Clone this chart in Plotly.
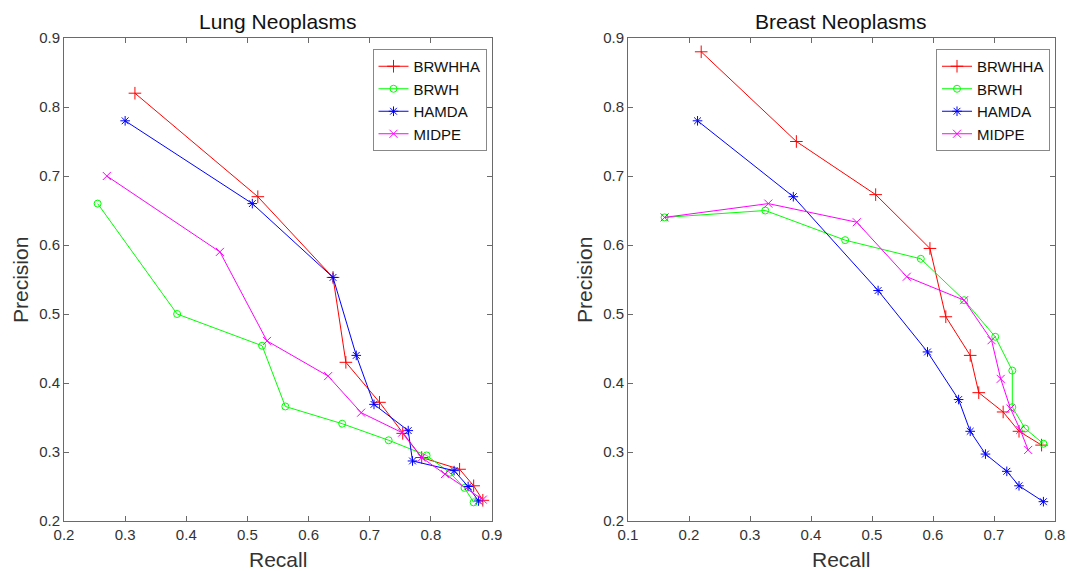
import plotly.graph_objects as go

W, H = 1067, 571

series_names = ["BRWHHA", "BRWH", "HAMDA", "MIDPE"]

# Lung Neoplasms (left)
lung_brwhha_recall = [0.316, 0.517, 0.640, 0.661, 0.716, 0.754, 0.785, 0.847, 0.870, 0.885]
lung_brwhha_prec = [0.820, 0.670, 0.553, 0.430, 0.372, 0.327, 0.292, 0.275, 0.251, 0.230]
lung_brwh_recall = [0.255, 0.385, 0.524, 0.562, 0.655, 0.731, 0.793, 0.831, 0.855, 0.870]
lung_brwh_prec = [0.660, 0.500, 0.454, 0.366, 0.341, 0.317, 0.295, 0.270, 0.248, 0.227]
lung_hamda_recall = [0.300, 0.508, 0.640, 0.678, 0.707, 0.763, 0.770, 0.838, 0.861, 0.878]
lung_hamda_prec = [0.780, 0.660, 0.553, 0.440, 0.369, 0.331, 0.287, 0.273, 0.250, 0.229]
lung_midpe_recall = [0.270, 0.455, 0.532, 0.632, 0.686, 0.753, 0.785, 0.823, 0.885]
lung_midpe_prec = [0.700, 0.590, 0.461, 0.410, 0.357, 0.328, 0.292, 0.268, 0.231]

# Breast Neoplasms (right)
breast_brwhha_recall = [0.220, 0.376, 0.506, 0.595, 0.621, 0.661, 0.675, 0.715, 0.741, 0.778]
breast_brwhha_prec = [0.880, 0.750, 0.673, 0.595, 0.496, 0.440, 0.386, 0.358, 0.330, 0.310]
breast_brwh_recall = [0.160, 0.325, 0.456, 0.580, 0.651, 0.702, 0.730, 0.730, 0.751, 0.781]
breast_brwh_prec = [0.640, 0.650, 0.607, 0.580, 0.520, 0.467, 0.418, 0.365, 0.334, 0.312]
breast_hamda_recall = [0.214, 0.371, 0.510, 0.591, 0.642, 0.661, 0.686, 0.721, 0.741, 0.781]
breast_hamda_prec = [0.780, 0.670, 0.534, 0.445, 0.376, 0.330, 0.297, 0.272, 0.251, 0.228]
breast_midpe_recall = [0.160, 0.330, 0.475, 0.557, 0.651, 0.696, 0.711, 0.727, 0.743, 0.756]
breast_midpe_prec = [0.640, 0.660, 0.633, 0.554, 0.520, 0.462, 0.406, 0.363, 0.332, 0.303]

lung_x_ticks = [0.2, 0.3, 0.4, 0.5, 0.6, 0.7, 0.8, 0.9]
breast_x_ticks = [0.1, 0.2, 0.3, 0.4, 0.5, 0.6, 0.7, 0.8]
y_ticks = [0.2, 0.3, 0.4, 0.5, 0.6, 0.7, 0.8, 0.9]

colors = ["#ff0000", "#00ff00", "#0000ff", "#ff00ff"]
symbols = ["cross-thin-open", "circle-open", "asterisk-open", "x-thin-open"]
sizes = [9, 7, 8, 8]

lung = [(lung_brwhha_recall, lung_brwhha_prec), (lung_brwh_recall, lung_brwh_prec),
        (lung_hamda_recall, lung_hamda_prec), (lung_midpe_recall, lung_midpe_prec)]
breast = [(breast_brwhha_recall, breast_brwhha_prec), (breast_brwh_recall, breast_brwh_prec),
          (breast_hamda_recall, breast_hamda_prec), (breast_midpe_recall, breast_midpe_prec)]

fig = go.Figure()
FONT = "Liberation Sans, Arial, Helvetica, sans-serif"

for i, (xs, ys) in enumerate(lung):
    fig.add_trace(go.Scatter(
        x=xs, y=ys, mode="lines+markers", name=series_names[i],
        line=dict(color=colors[i], width=1),
        marker=dict(symbol=symbols[i], size=sizes[i], color=colors[i], line=dict(color=colors[i], width=1)),
        xaxis="x", yaxis="y", legend="legend"))
for i, (xs, ys) in enumerate(breast):
    fig.add_trace(go.Scatter(
        x=xs, y=ys, mode="lines+markers", name=series_names[i],
        line=dict(color=colors[i], width=1),
        marker=dict(symbol=symbols[i], size=sizes[i], color=colors[i], line=dict(color=colors[i], width=1)),
        xaxis="x2", yaxis="y2", legend="legend2"))

ybot, ytop = 1 - 521 / H, 1 - 38 / H
axis_common = dict(showline=True, linecolor="#6a6a6a", linewidth=1, mirror="ticks",
                   ticks="inside", ticklen=5, tickcolor="#6a6a6a", showgrid=False, zeroline=False,
                   automargin=False,
                   tickfont=dict(family=FONT, size=15, color="#333333"))

legend_common = dict(y=1 - 49 / H, xanchor="center", yanchor="top",
                     bgcolor="white", bordercolor="#888888", borderwidth=1, itemwidth=30,
                     font=dict(family=FONT, size=15, color="#111111"), tracegroupgap=0)

fig.update_layout(
    width=W, height=H, margin=dict(l=0, r=0, t=0, b=0, autoexpand=False),
    plot_bgcolor="white", paper_bgcolor="white",
    font=dict(family=FONT),
    xaxis=dict(domain=[64 / W, 492 / W], range=[0.2, 0.9], tickvals=lung_x_ticks,
               ticktext=[f"{v:g}" for v in lung_x_ticks], anchor="y", **axis_common),
    yaxis=dict(domain=[ybot, ytop], range=[0.2, 0.9], tickvals=y_ticks,
               ticktext=[f"{v:g}" for v in y_ticks], anchor="x", **axis_common),
    xaxis2=dict(domain=[628 / W, 1055 / W], range=[0.1, 0.8], tickvals=breast_x_ticks,
                ticktext=[f"{v:g}" for v in breast_x_ticks], anchor="y2", **axis_common),
    yaxis2=dict(domain=[ybot, ytop], range=[0.2, 0.9], tickvals=y_ticks,
                ticktext=[f"{v:g}" for v in y_ticks], anchor="x2", **axis_common),
    legend=dict(x=429.5 / W, **legend_common),
    legend2=dict(x=993 / W, **legend_common),
    showlegend=True,
)

ann = [
    dict(text="Lung Neoplasms", x=278 / W, y=1 - 22 / H, size=21, color="#111111", angle=0),
    dict(text="Breast Neoplasms", x=841 / W, y=1 - 22 / H, size=21, color="#111111", angle=0),
    dict(text="Recall", x=278 / W, y=1 - 559 / H, size=21, color="#333333", angle=0),
    dict(text="Recall", x=841 / W, y=1 - 559 / H, size=21, color="#333333", angle=0),
    dict(text="Precision", x=21 / W, y=1 - 280 / H, size=21, color="#333333", angle=-90),
    dict(text="Precision", x=585 / W, y=1 - 280 / H, size=21, color="#333333", angle=-90),
]
for a in ann:
    fig.add_annotation(text=a["text"], x=a["x"], y=a["y"], xref="paper", yref="paper",
                       xanchor="center", yanchor="middle", showarrow=False, textangle=a["angle"],
                       font=dict(family=FONT, size=a["size"], color=a["color"]))

fig.write_html("out.html", config={"displayModeBar": False},
               post_script="document.body.style.margin='0';")
